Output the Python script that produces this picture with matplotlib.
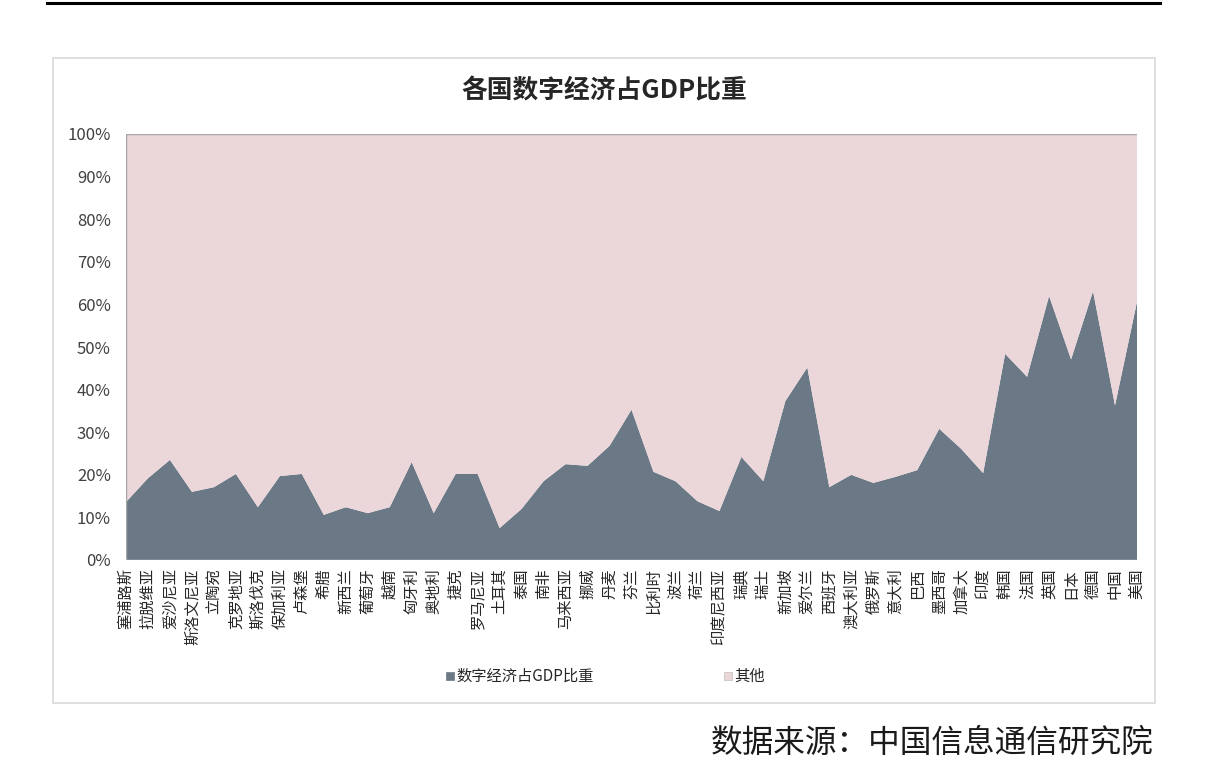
import matplotlib
matplotlib.use("Agg")
import matplotlib.pyplot as plt
from matplotlib.patches import Rectangle
from matplotlib.lines import Line2D
import numpy as np

plt.rcParams['font.family'] = ['Noto Sans CJK SC', 'DejaVu Sans']

countries = ["塞浦路斯", "拉脱维亚", "爱沙尼亚", "斯洛文尼亚", "立陶宛", "克罗地亚", "斯洛伐克",
             "保加利亚", "卢森堡", "希腊", "新西兰", "葡萄牙", "越南", "匈牙利", "奥地利", "捷克",
             "罗马尼亚", "土耳其", "泰国", "南非", "马来西亚", "挪威", "丹麦", "芬兰", "比利时",
             "波兰", "荷兰", "印度尼西亚", "瑞典", "瑞士", "新加坡", "爱尔兰", "西班牙", "澳大利亚",
             "俄罗斯", "意大利", "巴西", "墨西哥", "加拿大", "印度", "韩国", "法国", "英国", "日本",
             "德国", "中国", "美国"]
digital_share = [13.6, 19.2, 23.5, 16.0, 17.1, 20.2, 12.4, 19.7, 20.2, 10.6, 12.4, 11.0, 12.4,
                 23.0, 11.0, 20.2, 20.2, 7.5, 12.0, 18.5, 22.5, 22.1, 26.8, 35.3, 20.7, 18.5,
                 13.8, 11.5, 24.2, 18.5, 37.3, 45.2, 17.1, 20.0, 18.1, 19.5, 21.1, 30.8, 26.1,
                 20.4, 48.4, 43.0, 62.0, 47.1, 63.1, 36.3, 60.6]
other_share = [100 - v for v in digital_share]
yticks = [0, 10, 20, 30, 40, 50, 60, 70, 80, 90, 100]
series_names = ["数字经济占GDP比重", "其他"]
title = "各国数字经济占GDP比重"
source = "数据来源：中国信息通信研究院"

c_dark = "#6B7987"
c_pink = "#EBD6D9"

W, H = 1224, 773
fig = plt.figure(figsize=(W / 100, H / 100), dpi=100)
fig.patch.set_facecolor("white")

# top rule
fig.add_artist(Line2D([47 / W, 1160 / W], [1 - 3 / H, 1 - 3 / H], color="black", lw=2.2))
# chart frame
fig.add_artist(Rectangle((53 / W, 1 - 703 / H), (1155 - 53) / W, (703 - 58) / H,
                         fill=False, edgecolor="#D9D9D9", lw=1.2))

ax = fig.add_axes([126 / W, 1 - 560 / H, (1137 - 126) / W, (560 - 134) / H])
x = np.arange(len(countries))
ax.stackplot(x, digital_share, other_share, colors=[c_dark, c_pink], linewidth=0)
ax.plot([x[0], x[-1]], [100, 100], color="#A6A6A6", lw=1)
ax.plot([x[0], x[0]], [0, 100], color="#A6A6A6", lw=1)
ax.set_xlim(x[0], x[-1])
ax.set_ylim(0, 100)
for s in ax.spines.values():
    s.set_visible(False)
ax.axhline(0, color="#D9D9D9", lw=1)
ax.set_yticks(yticks)
ax.set_yticklabels([f"{t}%" for t in yticks], fontsize=12, color="#404040")
ax.set_xticks(x)
ax.set_xticklabels(countries, rotation=90, fontsize=11, color="#262626", va="top")
ax.tick_params(axis="both", length=0)
ax.tick_params(axis="y", pad=11)
ax.tick_params(axis="x", pad=6)

fig.text(604 / W, 1 - 91 / H, title, ha="center", va="center", fontsize=18.5, fontweight="bold",
         color="#262626")

# legend
lx = [450, 728]
for i, (name, col) in enumerate(zip(series_names, [c_dark, c_pink])):
    fig.add_artist(Rectangle(((lx[i] - 4) / W, 1 - 680 / H), 8 / W, 8 / H,
                             facecolor=col, edgecolor="#BFBFBF" if i == 1 else col, lw=0.5))
    fig.text((lx[i] + 6) / W, 1 - 676 / H, name, ha="left", va="center", fontsize=11,
             color="#262626")

fig.text(1153 / W, 1 - 743 / H, source, ha="right", va="center", fontsize=22.8,
         fontweight="light", color="#1a1a1a")

fig.savefig("out.png", dpi=100)
